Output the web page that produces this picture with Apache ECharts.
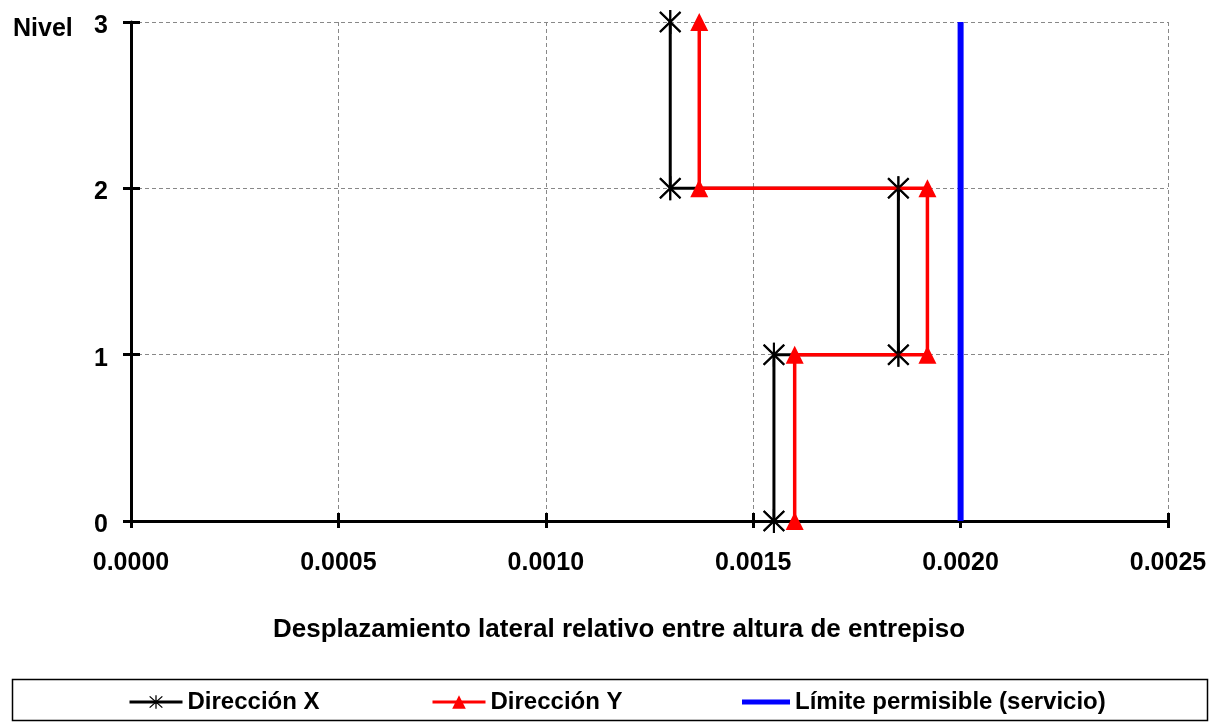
<!DOCTYPE html>
<html>
<head>
<meta charset="utf-8">
<script src="https://cdn.jsdelivr.net/npm/echarts@6/dist/echarts.min.js"></script>
<style>
html,body{margin:0;padding:0;background:#fff;}
#chart{width:1215px;height:726px;}
</style>
</head>
<body>
<div id="chart"></div>
<script>
// ---- data ----
const stories = [1, 2, 3];                       // story index (level top)
const driftX = [0.00155, 0.00185, 0.00130];      // Dirección X drift per story
const driftY = [0.00160, 0.00192, 0.00137];      // Dirección Y drift per story
const limitValue = 0.002;                        // Límite permisible (servicio)
const levelTicks = [0, 1, 2, 3];
const xTicks = [0, 0.0005, 0.001, 0.0015, 0.002, 0.0025];
const seriesNames = ['Dirección X', 'Dirección Y', 'Límite permisible (servicio)'];
const xAxisTitle = 'Desplazamiento lateral relativo entre altura de entrepiso';
const yAxisTitle = 'Nivel';

function stepPoints(drift) {
  const pts = [];
  stories.forEach((s, i) => {
    pts.push([drift[i], s - 1]);
    pts.push([drift[i], s]);
  });
  return pts;
}
const ptsX = stepPoints(driftX);
const ptsY = stepPoints(driftY);
const ptsLimit = [[limitValue, levelTicks[0]], [limitValue, levelTicks[levelTicks.length - 1]]];

// asterisk symbol (filled thin bars, same winding)
const ast = 'path://M11,0L13,0L13,24L11,24Z' +
  'M2.71,1.29L22.71,21.29L21.29,22.71L1.29,2.71Z' +
  'M22.71,2.71L2.71,22.71L1.29,21.29L21.29,1.29Z';
const lineIcon = 'path://M0,0L48,0L48,5L0,5Z';

const FONT = '"Liberation Sans", Arial, sans-serif';
const chart = echarts.init(document.getElementById('chart'), null, {renderer: 'canvas'});

const xMin = xTicks[0], xMax = xTicks[xTicks.length - 1];
const yMin = levelTicks[0], yMax = levelTicks[levelTicks.length - 1];

function legendOf(data, left, pad, extra) {
  return Object.assign({
    data: data, left: left, top: 685,
    orient: 'horizontal', itemWidth: 53, itemHeight: 17, itemGap: 0,
    lineStyle: {width: 3},
    textStyle: {fontFamily: FONT, fontWeight: 'bold', fontSize: 24, color: '#000', padding: [0, 0, 0, pad]}
  }, extra || {});
}

const option = {
  animation: false,
  backgroundColor: '#fff',
  grid: {left: 131, top: 22, width: 1037, height: 499, containLabel: false},
  title: {
    text: yAxisTitle, left: 8, top: 12,
    textStyle: {fontFamily: FONT, fontWeight: 'bold', fontSize: 25, color: '#000'}
  },
  xAxis: [{
    type: 'value', min: xMin, max: xMax, interval: 0.0005, position: 'bottom',
    axisLine: {show: true, onZero: false, lineStyle: {color: '#000', width: 3}},
    axisTick: {show: true, inside: false, length: 7, lineStyle: {color: '#000', width: 3}},
    axisLabel: {margin: 30, fontFamily: FONT, fontWeight: 'bold', fontSize: 25, color: '#000',
      formatter: v => v.toFixed(4)},
    splitLine: {show: true, lineStyle: {color: '#888', width: 1, type: [4, 3]}}
  }, {
    type: 'value', min: xMin, max: xMax, interval: 0.0005, position: 'bottom',
    axisLine: {show: false}, axisLabel: {show: false}, splitLine: {show: false},
    axisTick: {show: true, inside: true, length: 8, lineStyle: {color: '#000', width: 3}}
  }],
  yAxis: [{
    type: 'value', min: yMin, max: yMax, interval: 1, position: 'left',
    axisLine: {show: true, onZero: false, lineStyle: {color: '#000', width: 3}},
    axisTick: {show: true, inside: false, length: 8, lineStyle: {color: '#000', width: 3}},
    axisLabel: {margin: 23, color: '#000',
      formatter: v => '{a|' + v + '}',
      rich: {a: {fontFamily: FONT, fontWeight: 'bold', fontSize: 25, color: '#000', padding: [8, 0, 0, 0]}}},
    splitLine: {show: true, lineStyle: {color: '#888', width: 1, type: [4, 3]}}
  }, {
    type: 'value', min: yMin, max: yMax, interval: 1, position: 'left',
    axisLine: {show: false}, axisLabel: {show: false}, splitLine: {show: false},
    axisTick: {show: true, inside: true, length: 9, lineStyle: {color: '#000', width: 3}}
  }],
  legend: [
    legendOf([seriesNames[0]], 123, 0),
    legendOf([seriesNames[1]], 426, 0),
    legendOf([{name: seriesNames[2], icon: lineIcon}], 737, 0, {itemWidth: 48, symbolKeepAspect: true})
  ],
  graphic: [{
    type: 'rect', left: 10, top: 677, z: 0,
    shape: {width: 1195, height: 41},
    style: {fill: 'none', stroke: '#000', lineWidth: 1.5}
  }, {
    type: 'text', x: 619, y: 630, z: 10,
    style: {text: xAxisTitle, fontFamily: FONT, fontWeight: 'bold', fontSize: 26, fill: '#000',
      align: 'center', verticalAlign: 'middle'}
  }],
  series: [
    {
      name: seriesNames[0], type: 'line', data: ptsX, z: 2,
      symbol: ast, symbolSize: [22, 24],
      lineStyle: {color: '#000', width: 3},
      itemStyle: {color: '#000'}
    },
    {
      name: seriesNames[1], type: 'line', data: ptsY, z: 3,
      symbol: 'triangle', symbolSize: 18,
      lineStyle: {color: '#ff0000', width: 3.5},
      itemStyle: {color: '#ff0000'}
    },
    {
      name: seriesNames[2], type: 'line', data: ptsLimit, z: 3,
      symbol: 'none',
      lineStyle: {color: '#0000ff', width: 6},
      itemStyle: {color: '#0000ff'}
    },
    {
      name: 'asteriscos', type: 'scatter', data: ptsX, z: 4,
      symbol: ast, symbolSize: [22, 24],
      itemStyle: {color: '#000'}, silent: true
    }
  ]
};
chart.setOption(option);
</script>
</body>
</html>
